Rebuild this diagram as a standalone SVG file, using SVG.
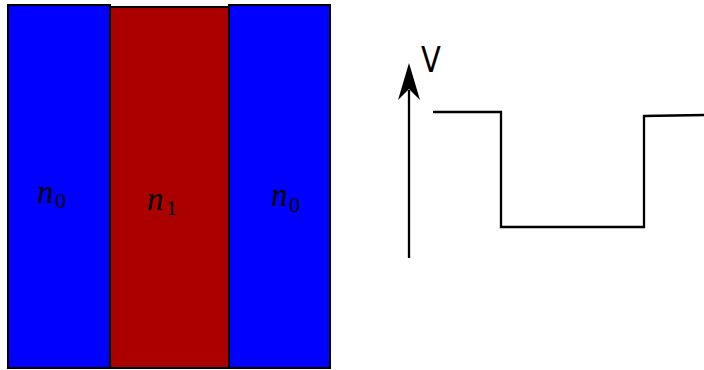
<svg xmlns="http://www.w3.org/2000/svg" width="704" height="370" viewBox="0 0 704 370">
<style>
.blk{stroke:#000;stroke-width:2;}
.ln{fill:none;stroke:#000;stroke-width:2.3;}
.m{font-family:"Liberation Serif",serif;font-style:italic;font-size:33px;fill:#000;}
.s{font-family:"Liberation Serif",serif;font-size:22px;fill:#000;}
</style>
<rect width="704" height="370" fill="#fff"/>
<g id="left-n0">
<rect class="blk" x="8" y="5" width="102" height="363" fill="#0000ff"/>
<text class="m" x="37" y="203">n</text>
<text class="s" x="55" y="208">0</text>
</g>
<g id="right-n0">
<rect class="blk" x="229" y="5" width="101" height="363" fill="#0000ff"/>
<text class="m" x="271" y="206">n</text>
<text class="s" x="289" y="212">0</text>
</g>
<g id="core-n1">
<rect class="blk" x="110" y="7" width="119" height="361" fill="#aa0000"/>
<text class="m" x="147" y="210">n</text>
<text class="s" x="166" y="215">1</text>
</g>
<g id="axis">
<line class="ln" x1="409" y1="258" x2="409" y2="90"/>
<path d="M409,63 L420,100 L409,89 L398,100 Z" fill="#000"/>
<text font-family="DejaVu Sans,sans-serif" font-size="29" transform="translate(421,72) scale(1,1.2)">V</text>
</g>
<g id="connectors">
<path class="ln" d="M433,112 H501 V227 H644 V116 L704,115"/>
</g>
</svg>
